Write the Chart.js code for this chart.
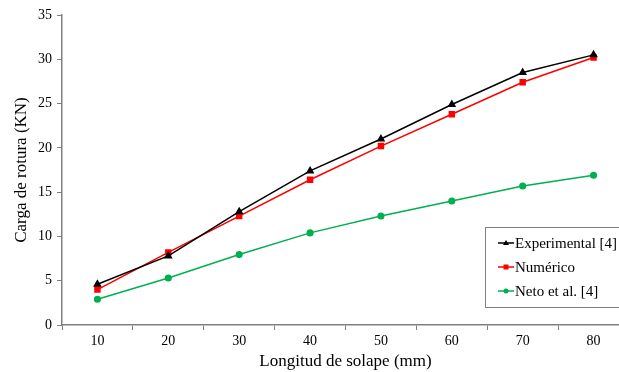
<!DOCTYPE html>
<html>
<head>
<meta charset="utf-8">
<script src="https://cdn.jsdelivr.net/npm/chart.js@4/dist/chart.umd.min.js"></script>
<style>
  html, body { margin: 0; padding: 0; background: #fff; overflow: hidden; }
  #wrap { position: relative; width: 640px; height: 372px; }
</style>
</head>
<body>
<div id="wrap"><canvas id="loadChart" width="640" height="372"></canvas></div>
<script>
// Chart data
const lengths = ['10', '20', '30', '40', '50', '60', '70', '80'];
const experimental = [4.6, 7.8, 12.8, 17.4, 21.0, 24.9, 28.5, 30.5];
const numerico = [4.0, 8.2, 12.3, 16.4, 20.2, 23.8, 27.4, 30.2];
const neto = [2.9, 5.3, 7.95, 10.4, 12.3, 14.0, 15.7, 16.9];

const serif = "'Liberation Serif', 'Times New Roman', serif";
const axisGray = '#808080';

// Legend drawn inside the plot area (bottom right box)
const boxLegend = {
    id: 'boxLegend',
    afterDraw(chart) {
        const ctx = chart.ctx;
        const x0 = 485, y0 = 227, w = 134, h = 80;
        ctx.save();
        ctx.fillStyle = '#fff';
        ctx.fillRect(x0, y0, w, h);
        ctx.strokeStyle = axisGray;
        ctx.lineWidth = 1;
        ctx.strokeRect(x0 + 0.5, y0 + 0.5, w, h);
        ctx.font = '15px ' + serif;
        ctx.textBaseline = 'middle';
        chart.data.datasets.forEach((ds, i) => {
            const y = 243 + i * 24;
            ctx.strokeStyle = ds.borderColor;
            ctx.lineWidth = 1.5;
            ctx.beginPath();
            ctx.moveTo(498, y);
            ctx.lineTo(514, y);
            ctx.stroke();
            ctx.fillStyle = ds.borderColor;
            const cx = 506;
            ctx.beginPath();
            if (ds.pointStyle === 'triangle') {
                ctx.moveTo(cx, y - 3);
                ctx.lineTo(cx + 3, y + 2);
                ctx.lineTo(cx - 3, y + 2);
                ctx.closePath();
            } else if (ds.pointStyle === 'rect') {
                ctx.rect(cx - 2.5, y - 2.5, 5, 5);
            } else {
                ctx.arc(cx, y, 2.5, 0, Math.PI * 2);
            }
            ctx.fill();
            ctx.fillStyle = '#000';
            ctx.fillText(ds.label, 515, y + 1);
        });
        ctx.restore();
    }
};

const ctx = document.getElementById('loadChart').getContext('2d');
new Chart(ctx, {
    type: 'line',
    data: {
        labels: lengths,
        datasets: [{
            label: 'Experimental [4]',
            data: experimental,
            borderColor: '#000000',
            backgroundColor: '#000000',
            borderWidth: 1.5,
            pointStyle: 'triangle',
            pointRadius: 3.5,
            tension: 0
        }, {
            label: 'Numérico',
            data: numerico,
            borderColor: '#ff0000',
            backgroundColor: '#ff0000',
            borderWidth: 1.5,
            pointStyle: 'rect',
            pointRadius: 3.5,
            tension: 0
        }, {
            label: 'Neto et al. [4]',
            data: neto,
            borderColor: '#00b050',
            backgroundColor: '#00b050',
            borderWidth: 1.5,
            pointStyle: 'circle',
            pointRadius: 2.8,
            tension: 0
        }]
    },
    options: {
        responsive: false,
        animation: false,
        layout: {
            padding: { top: 15, right: 11, left: 0, bottom: 0 }
        },
        scales: {
            x: {
                offset: true,
                grid: {
                    offset: true,
                    drawOnChartArea: false,
                    drawTicks: true,
                    tickLength: 5,
                    color: axisGray
                },
                border: { color: axisGray, width: 1.5 },
                ticks: {
                    color: '#000',
                    font: { family: serif, size: 14 },
                    padding: 3,
                    maxRotation: 0
                },
                title: {
                    display: true,
                    text: 'Longitud de solape (mm)',
                    color: '#000',
                    font: { family: serif, size: 17 },
                    padding: { top: 0, bottom: 0 }
                },
                afterFit(scale) { scale.height = 47; }
            },
            y: {
                min: 0,
                max: 35,
                grid: {
                    drawOnChartArea: false,
                    drawTicks: true,
                    tickLength: 5,
                    color: axisGray
                },
                border: { color: axisGray, width: 1.5 },
                ticks: {
                    stepSize: 5,
                    color: '#000',
                    font: { family: serif, size: 14 },
                    padding: 5
                },
                title: {
                    display: true,
                    text: 'Carga de rotura (KN)',
                    color: '#000',
                    font: { family: serif, size: 17 },
                    padding: { top: 11, bottom: 4 }
                },
                afterFit(scale) { scale.width = 62; }
            }
        },
        plugins: {
            legend: { display: false },
            tooltip: { enabled: false }
        }
    },
    plugins: [boxLegend]
});
</script>
</body>
</html>
